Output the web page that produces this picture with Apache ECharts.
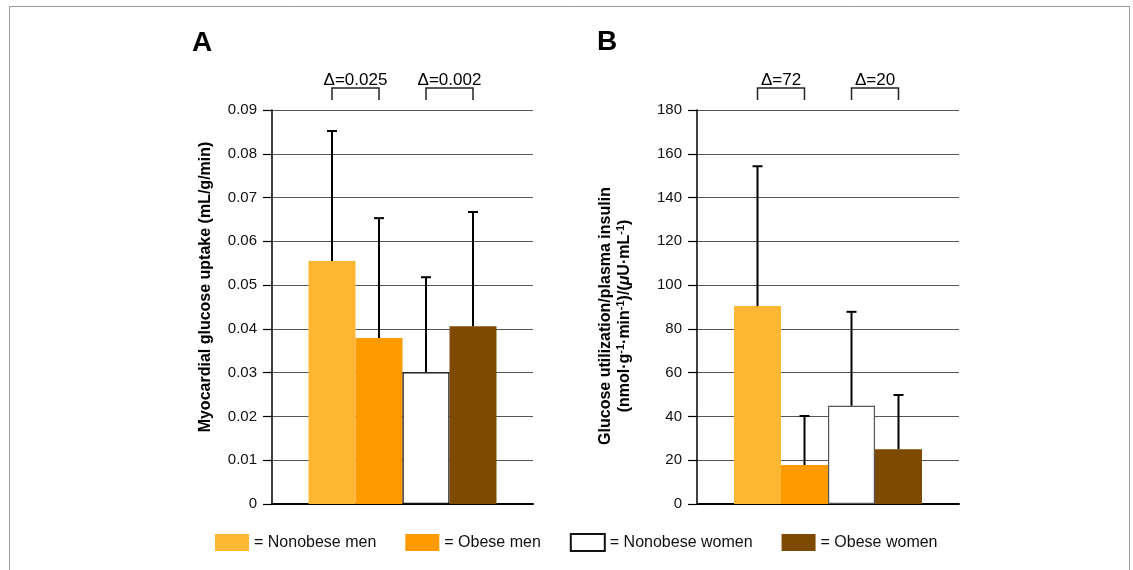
<!DOCTYPE html>
<html>
<head>
<meta charset="utf-8">
<script src="https://cdn.jsdelivr.net/npm/echarts@6/dist/echarts.min.js"></script>
<style>
  html, body { margin: 0; padding: 0; background: #fff; }
  #chart { width: 1133px; height: 570px; }
</style>
</head>
<body>
<div id="chart"></div>
<script>
// groups (legend)
var groups = ['Nonobese men', 'Obese men', 'Nonobese women', 'Obese women'];

// panel A: myocardial glucose uptake (mL/g/min), mean and SD
var uptake = [0.0555, 0.0379, 0.0301, 0.0406];
var uptakeSD = [0.0297, 0.0274, 0.0217, 0.0261];
var uptakeTicks = [0, 0.09, 0.01];
var deltaA = [[0, 1, 'Δ=0.025'], [2, 3, 'Δ=0.002']];

// panel B: glucose utilization / plasma insulin
var ratio = [90.4, 17.8, 44.9, 25.0];
var ratioSD = [63.9, 22.4, 42.9, 24.8];
var ratioTicks = [0, 180, 20];
var deltaB = [[0, 1, 'Δ=72'], [2, 3, 'Δ=20']];

var colors = ['#fdb733', '#ff9a00', '#ffffff', '#7e4a00'];
var FONT = '"Liberation Sans", Arial, Helvetica, sans-serif';
var BAR_W = 47;

var chart = echarts.init(document.getElementById('chart'));

function centerOffset(api, i) {
    var lay = api.barLayout ? api.barLayout({ count: 4, barWidth: BAR_W, barGap: '0%' }) : null;
    if (lay && lay[i]) return lay[i].offsetCenter;
    return (i - 1.5) * BAR_W;
}

function barSeries(idx, vals) {
    return groups.map(function (g, i) {
        var s = {
            name: g,
            type: 'bar',
            xAxisIndex: idx,
            yAxisIndex: idx,
            barWidth: BAR_W,
            barGap: '0%',
            data: [vals[i]],
            itemStyle: { color: colors[i] },
            emphasis: { disabled: true }
        };
        if (i === 2) {
            s.itemStyle.borderColor = idx === 0 ? '#111' : '#555';
            s.itemStyle.borderWidth = 1.2;
        }
        return s;
    });
}

function errorSeries(idx, vals, sd) {
    return {
        type: 'custom',
        xAxisIndex: idx,
        yAxisIndex: idx,
        clip: false,
        z: 3,
        silent: true,
        data: vals.map(function (v, i) { return [0, v, v + sd[i], i]; }),
        encode: { x: 0, y: [1, 2] },
        renderItem: function (params, api) {
            var i = api.value(3);
            var lo = api.coord([api.value(0), api.value(1)]);
            var hi = api.coord([api.value(0), api.value(2)]);
            var x = lo[0] + centerOffset(api, i);
            var st = { stroke: '#000', lineWidth: 2 };
            return {
                type: 'group',
                children: [
                    { type: 'line', shape: { x1: x, y1: lo[1], x2: x, y2: hi[1] }, style: st },
                    { type: 'line', shape: { x1: x - 5, y1: hi[1], x2: x + 5, y2: hi[1] }, style: st }
                ]
            };
        }
    };
}

function bracketSeries(idx, deltas, top) {
    return {
        type: 'custom',
        xAxisIndex: idx,
        yAxisIndex: idx,
        clip: false,
        silent: true,
        data: deltas.map(function (d) { return [0, top, d[0], d[1]]; }),
        encode: { x: 0, y: 1 },
        renderItem: function (params, api) {
            var base = api.coord([api.value(0), api.value(1)]);
            var x1 = base[0] + centerOffset(api, api.value(2));
            var x2 = base[0] + centerOffset(api, api.value(3));
            var yTop = base[1] - 22, yBot = base[1] - 10;
            return {
                type: 'group',
                children: [
                    {
                        type: 'polyline',
                        shape: { points: [[x1, yBot], [x1, yTop], [x2, yTop], [x2, yBot]] },
                        style: { stroke: '#222', lineWidth: 1.5, fill: null }
                    },
                    {
                        type: 'text',
                        x: (x1 + x2) / 2,
                        y: base[1] - 30,
                        style: {
                            text: deltas[params.dataIndex][2],
                            fontFamily: FONT, fontSize: 17, fill: '#000',
                            align: 'center', verticalAlign: 'middle'
                        }
                    }
                ]
            };
        }
    };
}

function yAxis(idx, ticks, name, gap, nameStyle, fmt) {
    return {
        gridIndex: idx,
        type: 'value',
        min: ticks[0],
        max: ticks[1],
        interval: ticks[2],
        name: name,
        nameLocation: 'middle',
        nameRotate: 90,
        nameGap: gap,
        nameTextStyle: nameStyle,
        axisLine: { show: true, lineStyle: { color: '#000', width: 1.5 } },
        axisTick: { show: true, length: 9, lineStyle: { color: '#000', width: 1.2 } },
        axisLabel: { margin: 15, color: '#111', fontFamily: FONT, fontSize: 15, formatter: fmt },
        splitLine: { lineStyle: { color: '#555', width: 1.2 } }
    };
}

function xAxis(idx) {
    return {
        gridIndex: idx,
        type: 'category',
        data: ['all'],
        axisLine: { lineStyle: { color: '#000', width: 2 } },
        axisTick: { show: false },
        axisLabel: { show: false }
    };
}

var option = {
    animation: false,
    backgroundColor: '#fff',
    textStyle: { fontFamily: FONT },
    grid: [
        { left: 272, right: 600, top: 110, bottom: 66 },
        { left: 697, right: 174, top: 110, bottom: 66 }
    ],
    legend: {
        data: groups,
        left: 215,
        top: 533,
        padding: 0,
        icon: 'rect',
        itemWidth: 34,
        itemHeight: 17,
        itemGap: 29,
        selectedMode: false,
        formatter: function (n) { return '= ' + n; },
        textStyle: { fontFamily: FONT, fontSize: 16, color: '#111' }
    },
    xAxis: [xAxis(0), xAxis(1)],
    yAxis: [
        yAxis(0, uptakeTicks, 'Myocardial glucose uptake (mL/g/min)', 58,
            { fontFamily: FONT, fontSize: 16, fontWeight: 'bold', color: '#000', padding: [0, 0, 0, 40] },
            function (v) { return v === 0 ? '0' : v.toFixed(2); }),
        yAxis(1, ratioTicks,
            '{t|Glucose utilization/plasma insulin}\n{t|(nmol·g}{s|-1}{t|·min}{s|-1}{t|)/(}{i|μ}{t|U·mL}{s|-1}{t|)}', 63,
            {
                color: '#000', padding: [0, 18, 0, 0], lineHeight: 19,
                rich: {
                    t: { fontFamily: FONT, fontSize: 16, fontWeight: 'bold', color: '#000', align: 'center', lineHeight: 19 },
                    s: { fontFamily: FONT, fontSize: 11, fontWeight: 'bold', color: '#000', align: 'center', verticalAlign: 'top', lineHeight: 19 },
                    i: { fontFamily: FONT, fontSize: 16, fontWeight: 'bold', fontStyle: 'italic', color: '#000', align: 'center', lineHeight: 19 }
                }
            },
            function (v) { return String(v); })
    ],
    series: []
        .concat(barSeries(0, uptake))
        .concat([errorSeries(0, uptake, uptakeSD), bracketSeries(0, deltaA, uptakeTicks[1])])
        .concat(barSeries(1, ratio))
        .concat([errorSeries(1, ratio, ratioSD), bracketSeries(1, deltaB, ratioTicks[1])]),
    graphic: [
        {
            type: 'rect', left: 7, top: 4, silent: true,
            shape: { width: 1120, height: 600 },
            style: { fill: null, stroke: '#999', lineWidth: 1 }
        },
        {
            type: 'text', left: 192, top: 29,
            style: { text: 'A', fontFamily: FONT, fontSize: 28, fontWeight: 'bold', fill: '#000' }
        },
        {
            type: 'text', left: 597, top: 28,
            style: { text: 'B', fontFamily: FONT, fontSize: 28, fontWeight: 'bold', fill: '#000' }
        }
    ]
};

chart.setOption(option);
</script>
</body>
</html>
